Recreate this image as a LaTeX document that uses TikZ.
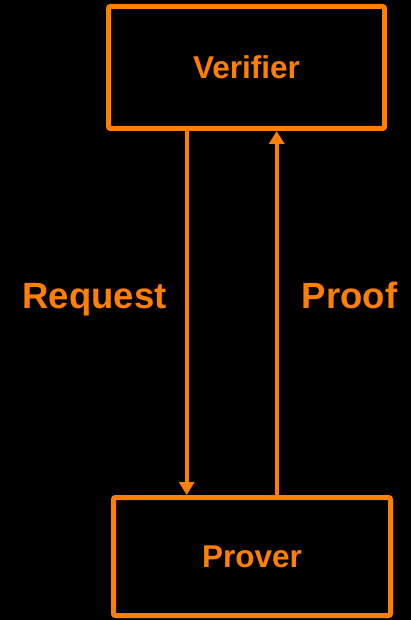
\documentclass[tikz,border=0pt]{standalone}
\usepackage{fontspec}
\setmainfont{Liberation Sans}
\usetikzlibrary{arrows.meta}
\definecolor{accent}{RGB}{255,128,0}
\begin{document}
\begin{tikzpicture}[x=1pt,y=-1pt,
  party/.style={draw=accent,line width=5pt,rounded corners=2pt,
    text=accent,font=\fontsize{31.5}{36}\selectfont\bfseries},
  msg/.style={draw=accent,line width=4pt,-{Triangle[width=15pt,length=13pt]}},
  msglabel/.style={text=accent,anchor=base,inner sep=0pt,font=\fontsize{36.5}{40}\selectfont\bfseries}]
  \fill[black] (0,0) rectangle (411,620);
  \useasboundingbox (0,0) rectangle (411,620);
  % the two parties
  \node[party,minimum width=276pt,minimum height=122pt] (verifier) at (246.5,67.5) {Verifier};
  \node[party,minimum width=277pt,minimum height=118pt] (prover) at (252,556.5) {Prover};
  % x positions of the two message lines
  \coordinate (reqx) at (186.7,300);
  \coordinate (prfx) at (276.7,300);
  \draw[msg] (verifier.south -| reqx) -- (prover.north -| reqx);
  \draw[msg] (prover.north -| prfx) -- (verifier.south -| prfx);
  \node[msglabel] (request) at (94.5,308) {Request};
  \node[msglabel] (proof) at (349.5,308) {Proof};
\end{tikzpicture}
\end{document}
